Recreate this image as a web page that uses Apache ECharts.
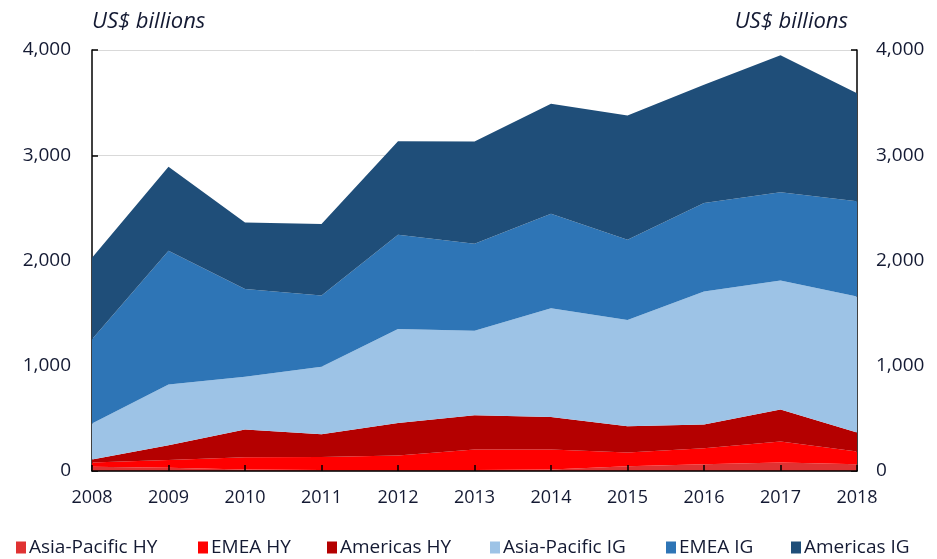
<!DOCTYPE html>
<html>
<head>
<meta charset="utf-8">
<script src="https://cdn.jsdelivr.net/npm/echarts@6/dist/echarts.min.js"></script>
<style>
    html, body { margin: 0; padding: 0; background: #fff; }
    #chart { width: 937px; height: 559px; }
</style>
</head>
<body>
<div id="chart"></div>
<script>
// Bond issuance by region and rating, US$ billions

const years = ['2008', '2009', '2010', '2011', '2012', '2013', '2014', '2015', '2016', '2017', '2018'];

const asiaPacificHY = [40, 30, 15, 10, 10, 10, 15, 45, 65, 80, 65];
const emeaHY = [40, 75, 115, 123, 138, 195, 189, 130, 150, 200, 120];
const americasHY = [30, 140, 264, 216, 309, 325, 310, 251, 227, 305, 181];
const asiaPacificIG = [341, 578, 501, 641, 893, 803, 1033, 1009, 1263, 1225, 1291];
const emeaIG = [800, 1269, 835, 677, 895, 826, 898, 762, 841, 838, 905];
const americasIG = [775, 798, 632, 680, 888, 971, 1045, 1181, 1124, 1302, 1026];

const seriesNames = ['Asia-Pacific HY', 'EMEA HY', 'Americas HY', 'Asia-Pacific IG', 'EMEA IG', 'Americas IG'];
const yTicks = [0, 1000, 2000, 3000, 4000];

const colors = ['#e03232', '#ff0000', '#b40000', '#9dc3e6', '#2e75b6', '#1f4e79'];
const legendLeft = [11, 193, 322, 485, 661, 786];

const textColor = '#141a33';
const font = 'Open Sans';

function areaSeries(i, data) {
    return {
        name: seriesNames[i],
        type: 'line',
        stack: 'total',
        data: data,
        showSymbol: false,
        symbol: 'none',
        lineStyle: { width: 0 },
        areaStyle: { color: colors[i], opacity: 1 },
        itemStyle: { color: colors[i] },
        emphasis: { disabled: true }
    };
}

function yAxisDef(position) {
    return {
        type: 'value',
        position: position,
        min: yTicks[0],
        max: yTicks[yTicks.length - 1],
        interval: 1000,
        axisLine: { show: true, lineStyle: { color: '#000', width: 1.5 } },
        axisTick: { show: true, inside: true, length: 6, lineStyle: { color: '#000', width: 1.5 } },
        axisLabel: {
            color: textColor,
            fontFamily: font,
            fontSize: 19,
            margin: position === 'left' ? 21 : 19,
            formatter: v => v.toLocaleString('en-US')
        },
        splitLine: { show: position === 'left', lineStyle: { color: '#d9d9d9', width: 1 } }
    };
}

// one legend per item so each sits where it does in the original
const legends = seriesNames.map((name, i) => ({
    bottom: -3,
    left: legendLeft[i],
    icon: 'rect',
    itemWidth: 10,
    itemHeight: 12,
    textStyle: { color: textColor, fontFamily: font, fontSize: 19, padding: [0, 0, 0, -2] },
    data: [name]
}));

const chart = echarts.init(document.getElementById('chart'));

const option = {
    animation: false,
    grid: { left: 92, right: 80, top: 50, bottom: 88 },
    xAxis: {
        type: 'category',
        data: years,
        boundaryGap: false,
        axisLine: { lineStyle: { color: '#000', width: 1.5 } },
        axisTick: { show: true, inside: true, length: 6, alignWithLabel: true, lineStyle: { color: '#000', width: 1.5 } },
        axisLabel: { color: textColor, fontFamily: font, fontSize: 18, margin: 18 },
        z: 10
    },
    yAxis: [yAxisDef('left'), yAxisDef('right')],
    legend: legends,
    graphic: [
        {
            type: 'text', left: 92, top: 11,
            style: { text: 'US$ billions', fill: textColor, font: 'italic 22px "Open Sans"' }
        },
        {
            type: 'text', right: 89, top: 11,
            style: { text: 'US$ billions', fill: textColor, font: 'italic 22px "Open Sans"' }
        }
    ],
    series: [
        areaSeries(0, asiaPacificHY),
        areaSeries(1, emeaHY),
        areaSeries(2, americasHY),
        areaSeries(3, asiaPacificIG),
        areaSeries(4, emeaIG),
        areaSeries(5, americasIG)
    ]
};

chart.setOption(option);
</script>
</body>
</html>
